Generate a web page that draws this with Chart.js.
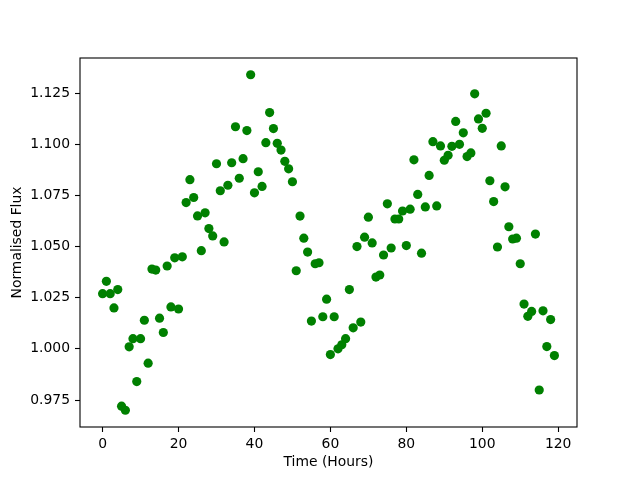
<!DOCTYPE html>
<html>
<head>
<meta charset="utf-8">
<script src="https://cdn.jsdelivr.net/npm/chart.js@4.4.1/dist/chart.umd.min.js"></script>
<style>
  body { margin: 0; background: #fff; }
  canvas { display: block; }
</style>
</head>
<body>
<canvas id="myChart" width="640" height="480"></canvas>
<script>
// time in hours, one reading per hour
const hours = [];
for (let h = 0; h < 120; h++) hours.push(h);

const flux = [
  1.027, 1.033, 1.027, 1.020, 1.029, 0.972, 0.970, 1.001, 1.005, 0.984,
  1.005, 1.014, 0.993, 1.039, 1.0385, 1.015, 1.008, 1.0405, 1.0205, 1.0445,
  1.0195, 1.045, 1.0715, 1.0827, 1.074, 1.065, 1.048, 1.0665, 1.0588, 1.0552,
  1.0905, 1.0773, 1.0523, 1.080, 1.091, 1.1086, 1.0834, 1.093, 1.1067, 1.134,
  1.0763, 1.0866, 1.0794, 1.1008, 1.1155, 1.1077, 1.1005, 1.0972, 1.0917, 1.088,
  1.0817, 1.0382, 1.0649, 1.0541, 1.0473, 1.0136, 1.0416, 1.0421, 1.0157, 1.0243,
  0.9972, 1.0157, 1.000, 1.002, 1.005, 1.029, 1.0103, 1.050, 1.0131, 1.0546,
  1.0644, 1.0518, 1.0351, 1.0361, 1.0459, 1.0709, 1.0493, 1.0635, 1.0635, 1.0674,
  1.0505, 1.0683, 1.0924, 1.0755, 1.0468, 1.0694, 1.0848, 1.1013, 1.0699, 1.0992,
  1.0922, 1.0946, 1.099, 1.1112, 1.100, 1.1056, 1.094, 1.0958, 1.1247, 1.1124,
  1.1078, 1.1152, 1.0822, 1.072, 1.0498, 1.0992, 1.0792, 1.0597, 1.0537, 1.0541,
  1.0416, 1.0219, 1.0159, 1.0183, 1.0561, 0.9799, 1.0186, 1.0011, 1.0143, 0.9967
];

const xTicks = [0, 20, 40, 60, 80, 100, 120];
const yTicks = [0.975, 1.000, 1.025, 1.050, 1.075, 1.100, 1.125];

// matplotlib style 5% margins
function padRange(arr) {
  const lo = Math.min(...arr), hi = Math.max(...arr);
  const m = (hi - lo) * 0.05;
  return [lo - m, hi + m];
}
const [xMin, xMax] = padRange(hours);
const [yMin, yMax] = padRange(flux);

const font = { family: "'DejaVu Sans', sans-serif", size: 13.9 };

const framePlugin = {
  id: "frame",
  afterDraw(chart) {
    const { ctx, chartArea: a } = chart;
    ctx.save();
    ctx.strokeStyle = "#000";
    ctx.lineWidth = 1.1;
    ctx.strokeRect(a.left, a.top, a.right - a.left, a.bottom - a.top);
    ctx.restore();
  }
};

const points = hours.map((h, i) => ({ x: h, y: flux[i] }));

new Chart(document.getElementById("myChart"), {
  type: "scatter",
  data: {
    datasets: [{
      data: points,
      backgroundColor: "#008000",
      borderWidth: 0,
      pointRadius: 4.6,
      pointHoverRadius: 4.6
    }]
  },
  options: {
    responsive: false,
    animation: false,
    devicePixelRatio: 1,
    layout: { padding: { top: 58, right: 63, left: 0, bottom: 0 } },
    plugins: { legend: { display: false }, tooltip: { enabled: false } },
    scales: {
      x: {
        type: "linear",
        min: xMin,
        max: xMax,
        afterBuildTicks: s => { s.ticks = xTicks.map(v => ({ value: v })); },
        afterFit: s => { s.height = 53; },
        grid: { drawOnChartArea: false, color: "#000", tickLength: 5, tickWidth: 1.1 },
        border: { display: false },
        ticks: { color: "#000", font, padding: 4, maxRotation: 0, callback: v => String(v) },
        title: { display: true, text: "Time (Hours)", color: "#000", font, padding: { top: 0, bottom: 9.5 } }
      },
      y: {
        type: "linear",
        min: yMin,
        max: yMax,
        afterBuildTicks: s => { s.ticks = yTicks.map(v => ({ value: v })); },
        afterFit: s => { s.width = 80; },
        grid: { drawOnChartArea: false, color: "#000", tickLength: 5, tickWidth: 1.1 },
        border: { display: false },
        ticks: { color: "#000", font, padding: 5, callback: v => v.toFixed(3) },
        title: { display: true, text: "Normalised Flux", color: "#000", font, padding: { top: 8.7, bottom: 0 } }
      }
    }
  },
  plugins: [framePlugin]
});
</script>
</body>
</html>
